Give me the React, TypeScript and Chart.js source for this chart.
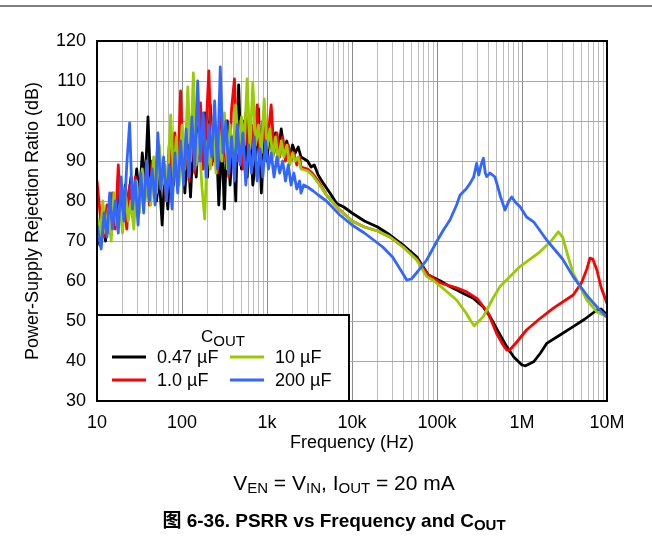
import React, { useEffect, useRef } from "react";
import { Chart, registerables } from "chart.js";

Chart.register(...registerables);

const FONT = "'Liberation Sans', Arial, Helvetica, 'Noto Sans CJK SC', sans-serif";

// Frequency sampling (Hz) of the noisy low-frequency part
const noiseFreqsA = [10, 10.8, 11.7, 12.6, 13.6, 14.7, 15.8, 17.1, 18.5, 20, 21.5, 23.3, 25.1, 27.1, 29.3, 31.6, 34.1, 36.8, 39.8, 42.9, 46.4, 50.1, 54.1, 58.4, 63.1, 68.1, 73.6, 79.4, 85.8, 92.6, 100, 108, 117, 126, 136, 147, 158, 171, 185, 200, 215, 233, 251, 271, 293, 316, 341, 368, 398, 429, 464, 501, 541, 584, 631, 681, 736, 794, 858, 926, 1000, 1080, 1170, 1260, 1360, 1470, 1580, 1710, 1850, 2000, 2150, 2330, 2510];
const noiseFreqsB = [10, 11.2, 12.1, 13.1, 14.1, 15.2, 16.4, 17.8, 19.2, 20.7, 22.4, 24.2, 26.1, 28.2, 30.4, 32.8, 35.4, 38.3, 41.3, 44.6, 48.2, 52, 56.2, 60.7, 65.5, 70.7, 76.4, 82.5, 89.1, 96.2, 104, 112, 121, 131, 141, 153, 165, 178, 192, 207, 224, 242, 261, 282, 304, 329, 355, 383, 414, 447, 483, 522, 563, 608, 657, 709, 766, 827, 893, 964, 1040, 1120, 1210, 1310, 1410, 1530, 1650, 1780, 1920, 2070, 2240, 2420, 2510];

// 0.47 uF (dB)
const c047Noise = [73, 69, 76, 70, 78, 72, 80, 74, 83, 76, 84, 78, 86, 79, 88, 81, 92, 84, 101, 83, 90, 80, 86, 74, 88, 78, 92, 84, 95, 86, 97, 82, 94, 81, 96, 86, 99, 88, 102, 86, 104, 90, 98, 79, 95, 78, 100, 84, 96, 80, 109, 88, 100, 86, 98, 84, 90, 103, 82, 96, 90, 98, 91, 97, 92, 98, 93, 95, 91, 94, 92, 93.5, 91];
const c047TailF = [3000, 3300, 3600, 4000, 4600, 5500, 6600, 8000, 10000, 14000, 20000, 28000, 40000, 58000, 79000, 110000, 142000, 200000, 267000, 350000, 421000, 520000, 661000, 800000, 1000000, 1100000, 1370000, 1650000, 1950000, 2800000, 4000000, 5500000, 7600000, 8500000, 10000000];
const c047TailV = [90, 88.5, 89, 86.5, 84.4, 82, 79.4, 78.5, 77, 75, 73.5, 71.5, 69, 66, 61.5, 60, 58.6, 57, 55.7, 53.5, 51.1, 47.5, 43.6, 41, 39, 38.8, 39.8, 42, 44.4, 46.5, 48.6, 50.5, 52.75, 53, 51.5];

// 1.0 uF (dB)
const c10Noise = [85, 74, 71, 79, 72, 82, 73, 89, 75, 80, 73, 84, 76, 86, 78, 83, 80, 88, 79, 90, 81, 95, 84, 90, 80, 94, 84, 97, 86, 107.5, 88, 95, 85, 99, 87, 92, 104.5, 88, 98, 112.5, 89, 99, 87, 101, 90, 97, 86, 103, 110.5, 90, 100, 88, 102, 91, 99, 93, 104, 92, 100, 93, 97, 104, 92, 97, 91, 96, 90, 94, 90, 92, 89, 91, 88.5];
const c10TailF = [3000, 3400, 4000, 5000, 7000, 10000, 14000, 20000, 28000, 40000, 58000, 79000, 110000, 170000, 223000, 300000, 400000, 500000, 600000, 661000, 720000, 850000, 1130000, 1600000, 2340000, 4000000, 5000000, 5800000, 6300000, 6800000, 7600000, 8500000, 10000000];
const c10TailV = [88, 87, 85, 81.5, 78, 75, 73.5, 72.5, 71, 68.5, 65.5, 61.5, 59.5, 58.3, 57.3, 55.5, 52, 47, 44, 42.75, 42.8, 44.5, 47.75, 50.5, 53.2, 56.5, 59.5, 63, 65.7, 65.5, 62.75, 58.5, 54.4];

// 10 uF (dB)
const c100Noise = [76, 70, 80, 72, 78, 70, 82, 74, 79, 72, 83, 75, 80, 73, 85, 77, 88, 80, 86, 79, 91, 82, 94, 84, 89, 85, 101.5, 86, 96, 84, 99, 88, 108.5, 90, 112, 89, 97, 84, 75.5, 95, 88, 100, 87, 98, 90, 102, 88, 99, 91, 104, 92, 101, 94, 110.5, 93, 109.5, 94, 99, 92, 105.5, 93, 98, 91, 96, 90, 95, 91, 94, 89, 92, 90, 91, 88];
const c100TailF = [3000, 3400, 4000, 5000, 7000, 10000, 14000, 20000, 28000, 40000, 57700, 75600, 89000, 120000, 170000, 220000, 250000, 275000, 300000, 351000, 450000, 551000, 946000, 1630000, 2200000, 2670000, 3000000, 3500000, 4000000, 5800000, 7600000, 10000000];
const c100TailV = [87.5, 86.5, 84.5, 81.5, 78, 75, 73.5, 72.5, 71, 68.5, 65.25, 61.1, 60.25, 58, 55.25, 52, 50, 48.8, 49.6, 51.1, 55.5, 58.6, 63.6, 67.3, 70, 72.3, 71, 66, 61.9, 55.25, 52.3, 51];

// 200 uF (dB)
const c200Noise = [74, 68, 77, 71, 82, 73, 80, 72, 86, 75, 89, 99.5, 78, 85, 74, 87, 77, 90, 80, 88, 79, 97, 83, 91, 80, 89, 78, 92, 82, 95, 84, 98, 86, 101, 88, 110, 90, 102, 86, 99, 91, 105, 88, 113.5, 92, 100, 87, 96, 85, 99, 89, 97, 84, 94, 87, 96, 85, 93, 86, 95, 88, 92, 86, 91, 87, 90, 85, 89, 84, 87, 83, 85, 82];
const c200TailF = [2700, 3000, 3500, 4000, 5000, 7200, 10000, 14000, 23000, 30000, 38000, 44000, 50000, 60000, 75600, 100000, 119000, 142000, 170000, 187000, 220000, 245000, 270000, 293000, 310000, 330000, 351000, 370000, 384000, 420000, 481000, 560000, 631000, 700000, 757000, 850000, 946000, 1130000, 1370000, 1950000, 3000000, 4000000, 6000000, 8000000, 10000000];
const c200TailV = [84, 83.5, 82.5, 81.5, 80, 76.5, 74, 72, 68.5, 66, 62.5, 60.25, 60.5, 62.5, 65.25, 70, 72.75, 75.25, 79, 81.5, 83, 84.4, 86, 89.4, 86.5, 89, 90.7, 87, 86.1, 87, 86, 81, 77.75, 80, 81, 79.5, 78.6, 76, 74.8, 70.25, 65.5, 61.1, 56, 53, 51];

const seriesLabels = ["0.47 µF", "1.0 µF", "10 µF", "200 µF"];
const seriesColors = ["#000000", "#ff0000", "#99cc00", "#3366ff"];
// legend grid cell [column, row] per series
const legendCells = [[0, 0], [0, 1], [1, 0], [1, 1]];

const xMajorTicks = [10, 100, 1000, 10000, 100000, 1000000, 10000000];
const xMajorLabels = ["10", "100", "1k", "10k", "100k", "1M", "10M"];
const yTicks = [30, 40, 50, 60, 70, 80, 90, 100, 110, 120];

function toPoints(fs: number[], vs: number[]) {
  return fs.map((f, i) => ({ x: f, y: vs[i] }));
}

const overlayPlugin = {
  id: "overlay",
  afterDatasetsDraw(chart: any) {
    const { ctx, chartArea: a } = chart;
    ctx.save();
    const bw = 252;
    const bh = 86;
    const bx = a.left;
    const by = a.bottom - bh;
    ctx.fillStyle = "#ffffff";
    ctx.fillRect(bx, by, bw, bh);
    ctx.lineWidth = 2;
    ctx.strokeStyle = "#000";
    ctx.strokeRect(bx, by, bw, bh);

    ctx.fillStyle = "#000";
    ctx.textBaseline = "alphabetic";
    ctx.textAlign = "left";
    ctx.font = `17px ${FONT}`;
    const wC = ctx.measureText("C").width;
    ctx.font = `15px ${FONT}`;
    const wO = ctx.measureText("OUT").width;
    const tx = bx + bw / 2 - (wC + wO) / 2;
    const ty = by + 27;
    ctx.font = `17px ${FONT}`;
    ctx.fillText("C", tx, ty);
    ctx.font = `15px ${FONT}`;
    ctx.fillText("OUT", tx + wC, ty + 4);

    ctx.font = `18px ${FONT}`;
    ctx.textBaseline = "middle";
    seriesLabels.forEach((lab, i) => {
      const [col, row] = legendCells[i];
      const x0 = bx + 15 + col * 118;
      const y0 = by + 42 + row * 23;
      ctx.strokeStyle = seriesColors[i];
      ctx.lineWidth = 3;
      ctx.beginPath();
      ctx.moveTo(x0, y0);
      ctx.lineTo(x0 + 34, y0);
      ctx.stroke();
      ctx.fillStyle = "#000";
      ctx.fillText(lab, x0 + 45, y0 + 1);
    });

    ctx.strokeStyle = "#000";
    ctx.lineWidth = 2;
    ctx.strokeRect(a.left, a.top, a.right - a.left, a.bottom - a.top);
    ctx.restore();
  },
};

export default function App() {
  const ref = useRef<HTMLCanvasElement | null>(null);

  useEffect(() => {
    if (!ref.current) return;
    const series = [
      toPoints(noiseFreqsA.concat(c047TailF), c047Noise.concat(c047TailV)),
      toPoints(noiseFreqsB.concat(c10TailF), c10Noise.concat(c10TailV)),
      toPoints(noiseFreqsA.concat(c100TailF), c100Noise.concat(c100TailV)),
      toPoints(noiseFreqsB.concat(c200TailF), c200Noise.concat(c200TailV)),
    ];
    const drawOrder = [3, 2, 1, 0];
    const datasets = drawOrder.map((i) => ({
      label: seriesLabels[i],
      data: series[i],
      borderColor: seriesColors[i],
      backgroundColor: seriesColors[i],
      borderWidth: 2.8,
      pointRadius: 0,
      tension: 0,
      borderJoinStyle: "round" as const,
      fill: false,
    }));

    const xAllTicks: number[] = [];
    for (let e = 1; e <= 6; e++) {
      for (let m = 1; m <= 9; m++) xAllTicks.push(m * Math.pow(10, e));
    }
    xAllTicks.push(10000000);

    const chart = new Chart(ref.current, {
      type: "line",
      data: { datasets },
      options: {
        animation: false,
        responsive: false,
        devicePixelRatio: 1,
        layout: { padding: { left: 0, top: 41, right: 45, bottom: 80 } },
        plugins: { legend: { display: false }, tooltip: { enabled: false } },
        font: { family: FONT },
        scales: {
          x: {
            type: "logarithmic",
            min: 10,
            max: 10000000,
            afterBuildTicks: (s: any) => {
              s.ticks = xAllTicks.map((v) => ({ value: v, major: xMajorTicks.includes(v) }));
            },
            afterFit: (s: any) => {
              s.height = 58;
            },
            ticks: {
              autoSkip: false,
              maxRotation: 0,
              padding: 11,
              color: "#000",
              font: { family: FONT, size: 18 },
              callback: (v: any) => {
                const idx = xMajorTicks.indexOf(Number(v));
                return idx >= 0 ? xMajorLabels[idx] : "";
              },
            },
            grid: {
              drawTicks: false,
              lineWidth: 1,
              color: (c: any) =>
                c.tick && xMajorTicks.includes(c.tick.value) ? "#8a8a8a" : "#bdbdbd",
            },
            border: { display: false },
            title: {
              display: true,
              text: "Frequency (Hz)",
              color: "#000",
              font: { family: FONT, size: 18 },
              padding: { top: 0, bottom: 5 },
            },
          },
          y: {
            type: "linear",
            min: 30,
            max: 120,
            afterBuildTicks: (s: any) => {
              s.ticks = yTicks.map((v) => ({ value: v }));
            },
            afterFit: (s: any) => {
              s.width = 97;
            },
            ticks: {
              padding: 11,
              color: "#000",
              font: { family: FONT, size: 18 },
            },
            grid: { drawTicks: false, lineWidth: 1, color: "#a8a8a8" },
            border: { display: false },
            title: {
              display: true,
              text: "Power-Supply Rejection Ratio (dB)",
              color: "#000",
              font: { family: FONT, size: 18 },
              padding: { top: 22, bottom: 0 },
            },
          },
        },
      } as any,
      plugins: [overlayPlugin],
    });
    return () => chart.destroy();
  }, []);

  const sub: React.CSSProperties = { fontSize: 15, position: "relative", top: 3 };

  return (
    <div
      style={{
        position: "absolute",
        left: 0,
        top: 0,
        width: 652,
        height: 539,
        background: "#fff",
        overflow: "hidden",
        fontFamily: FONT,
        color: "#000",
      }}
    >
      <div style={{ position: "absolute", left: 0, top: 5, width: 652, height: 2, background: "#808080" }} />
      <canvas
        ref={ref}
        width={652}
        height={539}
        style={{ position: "absolute", left: 0, top: 0, width: 652, height: 539 }}
      />
      <div
        style={{
          position: "absolute",
          left: 344,
          top: 471,
          transform: "translateX(-50%)",
          whiteSpace: "nowrap",
          fontSize: 21,
          lineHeight: "24px",
        }}
      >
        V<span style={sub}>EN</span> = V<span style={sub}>IN</span>, I<span style={sub}>OUT</span> = 20 mA
      </div>
      <div
        style={{
          position: "absolute",
          left: 334,
          top: 509,
          transform: "translateX(-50%)",
          whiteSpace: "nowrap",
          fontSize: 19,
          fontWeight: "bold",
          lineHeight: "24px",
        }}
      >
        图 6-36. PSRR vs Frequency and C<span style={sub}>OUT</span>
      </div>
    </div>
  );
}
